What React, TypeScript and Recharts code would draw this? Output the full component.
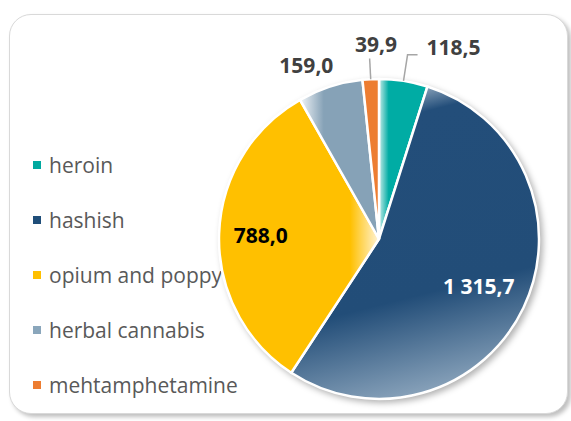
import { PieChart, Pie, Cell } from 'recharts'

const categories = ['heroin', 'hashish', 'opium and poppy', 'herbal cannabis', 'mehtamphetamine']
const seizures = [118.5, 1315.7, 788.0, 159.0, 39.9]
const valueLabels = ['118,5', '1 315,7', '788,0', '159,0', '39,9']

const legendColors = ['#00a99f', '#1f4e79', '#ffc000', '#8aa6bb', '#ed7d31']
const sliceFills = ['url(#gHeroin)', 'url(#gHashish)', 'url(#gOpium)', 'url(#gHerbal)', '#ed7d31']

// where each value label goes, relative to its slice
const labelStyle = [
  { r: 1.165, dx: 19, dy: -8, color: '#404040', anchor: 'start', leader: 'elbow' },
  { r: 0.69, dx: 0, dy: 0, color: '#ffffff', anchor: 'middle', leader: '' },
  { r: 0.74, dx: 0, dy: 0, color: '#000000', anchor: 'middle', leader: '' },
  { r: 1.14, dx: -17, dy: 0, color: '#404040', anchor: 'middle', leader: '' },
  { r: 1.22, dx: 7, dy: 0, color: '#404040', anchor: 'middle', leader: 'straight' },
]

const data = categories.map((name, i) => ({ name, value: seizures[i] }))
const total = seizures.reduce((a, b) => a + b, 0)

const FONT = '"Open Sans", "Noto Sans", sans-serif'
const RAD = Math.PI / 180

function renderLabel(props: any) {
  const { cx, cy, midAngle, outerRadius, index } = props
  const s = labelStyle[index]
  const pt = (r: number) => ({
    x: cx + r * Math.cos(-midAngle * RAD),
    y: cy + r * Math.sin(-midAngle * RAD),
  })
  const edge = pt(outerRadius)
  const p = pt(outerRadius * s.r)
  let line = null
  if (s.leader === 'elbow') {
    line = (
      <path
        d={`M${edge.x},${edge.y}L${p.x},${p.y}L${p.x + 10},${p.y}`}
        stroke="#a6a6a6"
        strokeWidth={1.5}
        fill="none"
      />
    )
  } else if (s.leader === 'straight') {
    const q = pt(outerRadius * 1.13)
    line = (
      <path d={`M${edge.x},${edge.y}L${q.x},${q.y}`} stroke="#a6a6a6" strokeWidth={1.5} fill="none" />
    )
  }
  return (
    <g key={`lbl-${index}`}>
      {line}
      <text
        x={p.x + s.dx}
        y={p.y + s.dy}
        textAnchor={s.anchor as any}
        dominantBaseline="central"
        fill={s.color}
        fontFamily={FONT}
        fontWeight={700}
        fontSize={21}
      >
        {valueLabels[index]}
      </text>
    </g>
  )
}

export default function App() {
  return (
    <div style={{ position: 'absolute', left: 0, top: 0, width: 571, height: 421, background: '#fff' }}>
      <div
        style={{
          position: 'absolute',
          left: 9,
          top: 14,
          width: 557,
          height: 398,
          border: '1.5px solid #d9d9d9',
          borderRadius: 22,
          boxShadow: '3px 3px 4px rgba(0,0,0,0.25)',
          background: '#fff',
        }}
      />
      <div style={{ position: 'absolute', left: 33, top: 137.5, fontFamily: FONT }}>
        {categories.map((c, i) => (
          <div key={c} style={{ display: 'flex', alignItems: 'center', height: 55 }}>
            <span
              style={{ width: 8, height: 8, background: legendColors[i], marginRight: 8, display: 'inline-block' }}
            />
            <span style={{ fontSize: 21, color: '#595959', lineHeight: '24px' }}>{c}</span>
          </div>
        ))}
      </div>
      <div style={{ position: 'absolute', left: 0, top: 0 }}>
        <PieChart width={571} height={421} margin={{ top: 0, right: 0, bottom: 0, left: 0 }}>
          <defs>
            <filter id="pieShadow" x="-20%" y="-20%" width="140%" height="140%">
              <feGaussianBlur stdDeviation="3" />
            </filter>
            <linearGradient id="gHeroin" x1="0" y1="0" x2="1" y2="0">
              <stop offset="0" stopColor="#c4ebe8" />
              <stop offset="0.2" stopColor="#00aca4" />
              <stop offset="1" stopColor="#00aca4" />
            </linearGradient>
            <linearGradient id="gHashish" x1="0.42" y1="0" x2="0.62" y2="1">
              <stop offset="0" stopColor="#a9bccd" />
              <stop offset="0.1" stopColor="#234e7a" />
              <stop offset="0.66" stopColor="#224d78" />
              <stop offset="1" stopColor="#93abc1" />
            </linearGradient>
            <linearGradient id="gOpium" x1="0" y1="0" x2="1" y2="0">
              <stop offset="0" stopColor="#ffc000" />
              <stop offset="0.82" stopColor="#ffc000" />
              <stop offset="1" stopColor="#fff4d8" />
            </linearGradient>
            <linearGradient id="gHerbal" x1="0" y1="0" x2="1" y2="0">
              <stop offset="0" stopColor="#f2f5f8" />
              <stop offset="0.3" stopColor="#86a2b7" />
              <stop offset="1" stopColor="#86a2b7" />
            </linearGradient>
          </defs>
          <Pie
            data={[{ name: 'shadow', value: total }]}
            dataKey="value"
            cx={382}
            cy={242}
            outerRadius={161}
            startAngle={90}
            endAngle={-270}
            stroke="none"
            isAnimationActive={false}
            label={false}
            labelLine={false}
          >
            <Cell fill="#000" fillOpacity={0.3} filter="url(#pieShadow)" />
          </Pie>
          <Pie
            data={data}
            dataKey="value"
            nameKey="name"
            cx={379}
            cy={239}
            outerRadius={160}
            startAngle={90}
            endAngle={-270}
            stroke="#ffffff"
            strokeWidth={2.5}
            isAnimationActive={false}
            label={renderLabel}
            labelLine={false}
          >
            {data.map((d, i) => (
              <Cell key={d.name} fill={sliceFills[i]} />
            ))}
          </Pie>
        </PieChart>
      </div>
    </div>
  )
}
